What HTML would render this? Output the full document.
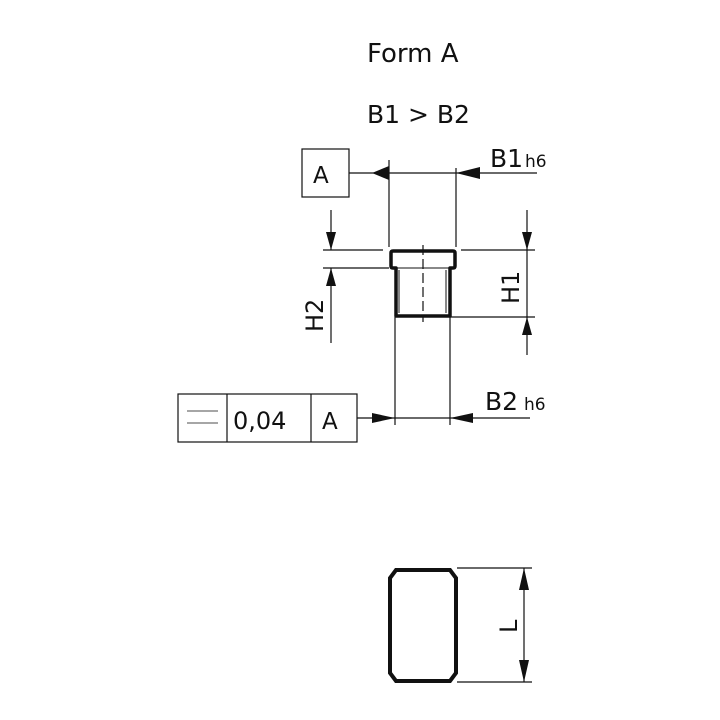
<!DOCTYPE html>
<html><head><style>
html,body{margin:0;padding:0;background:#fff;width:720px;height:720px;overflow:hidden}
svg text{font-family:"DejaVu Sans","Liberation Sans",sans-serif;fill:#111}
</style></head><body>
<svg width="720" height="720" viewBox="0 0 720 720" xmlns="http://www.w3.org/2000/svg">
<rect width="720" height="720" fill="#fff"/>
<text x="367" y="62" font-size="26">Form A</text>
<text x="367" y="123" font-size="25">B1 &gt; B2</text>

<g stroke="#111" stroke-width="1.2" fill="none">
<rect x="302" y="149" width="47" height="48"/>
<line x1="349" y1="173" x2="537" y2="173"/>
<line x1="389" y1="160" x2="389" y2="247"/>
<line x1="456" y1="168" x2="456" y2="247"/>
<line x1="323" y1="250" x2="383" y2="250"/>
<line x1="461" y1="250" x2="535" y2="250"/>
<line x1="323" y1="268" x2="389" y2="268"/>
<line x1="450" y1="317" x2="535" y2="317"/>
<line x1="331" y1="210" x2="331" y2="250"/>
<line x1="331" y1="268" x2="331" y2="343"/>
<line x1="527" y1="210" x2="527" y2="355"/>
<line x1="395" y1="317" x2="395" y2="425"/>
<line x1="450" y1="317" x2="450" y2="425"/>
<line x1="357" y1="418" x2="530" y2="418"/>
<rect x="178" y="394" width="179" height="48"/>
<line x1="227" y1="394" x2="227" y2="442"/>
<line x1="311" y1="394" x2="311" y2="442"/>
<line x1="187" y1="411" x2="218" y2="411" stroke="#888" stroke-width="1.5"/>
<line x1="187" y1="423" x2="218" y2="423" stroke="#888" stroke-width="1.5"/>
<line x1="457" y1="568" x2="532" y2="568"/>
<line x1="457" y1="682" x2="532" y2="682"/>
<line x1="524" y1="568" x2="524" y2="682"/>
<line x1="423" y1="245" x2="423" y2="322" stroke-dasharray="10,4"/>
<line x1="399" y1="270" x2="399" y2="313" stroke-width="1"/>
<line x1="446" y1="270" x2="446" y2="313" stroke-width="1"/>
</g>
<path d="M393,251 H453 Q455,251 455,253 V266 Q455,268 453,268 H450 V316 H396 V268 H393 Q391,268 391,266 V253 Q391,251 393,251 Z" fill="none" stroke="#111" stroke-width="3.5" stroke-linejoin="round"/>
<line x1="396" y1="268" x2="450" y2="268" stroke="#111" stroke-width="1"/>
<path d="M396,570 H450 L456,578 V673 L450,681 H396 L390,673 V578 Z" fill="none" stroke="#111" stroke-width="4"/>
<g fill="#111">
<polygon points="372,173 389,166 389,180"/>
<polygon points="456,173 480,167 480,179"/>
<polygon points="331,250 326,232 336,232"/>
<polygon points="331,268 326,286 336,286"/>
<polygon points="527,250 522,232 532,232"/>
<polygon points="527,317 522,335 532,335"/>
<polygon points="395,418 372,413 372,423"/>
<polygon points="450,418 473,413 473,423"/>
<polygon points="524,568 519,590 529,590"/>
<polygon points="524,682 519,660 529,660"/>
</g>
<text x="313" y="183" font-size="23">A</text>
<text x="490" y="167" font-size="25">B1</text>
<text x="525" y="167" font-size="17">h6</text>
<text x="485" y="410" font-size="25">B2</text>
<text x="524" y="410" font-size="17">h6</text>
<text x="233" y="429" font-size="24">0,04</text>
<text x="322" y="429" font-size="23">A</text>
<text transform="translate(323,332) rotate(-90)" font-size="24">H2</text>
<text transform="translate(519,304) rotate(-90)" font-size="24">H1</text>
<text transform="translate(517,633) rotate(-90)" font-size="24">L</text>
</svg>
</body></html>
